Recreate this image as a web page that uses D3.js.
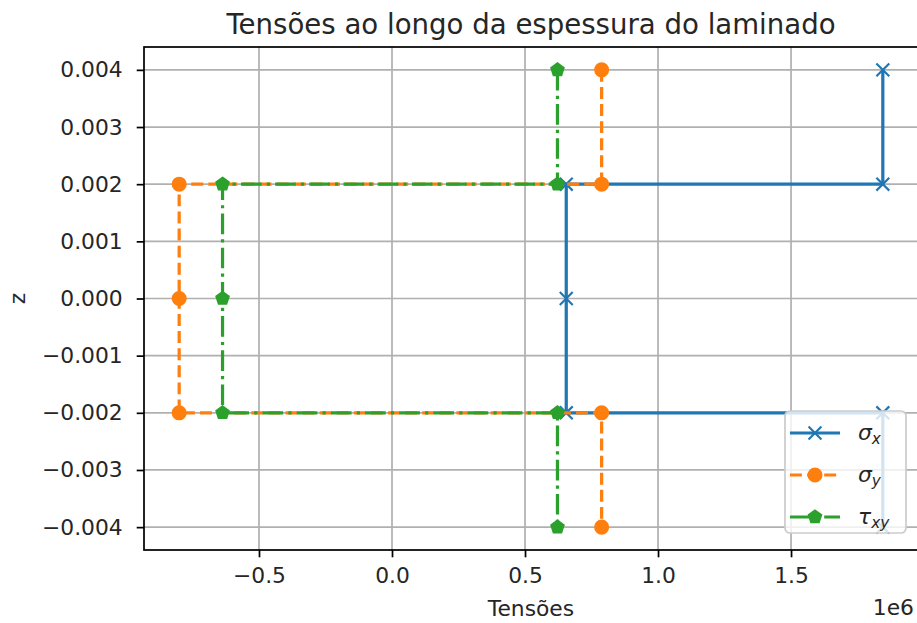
<!DOCTYPE html>
<html>
<head>
<meta charset="utf-8">
<script src="https://cdn.jsdelivr.net/npm/d3@7"></script>
<style>
  body { margin: 0; background: #fff; }
  svg { font-family: "DejaVu Sans", sans-serif; }
</style>
</head>
<body>
<div id="chart"></div>
<script>
// stress values through the laminate thickness
var zPos   = [0.004, 0.002, 0.002, 0, -0.002, -0.002, -0.004];
var sigmaX = [1.845e6, 1.845e6, 0.655e6, 0.655e6, 0.655e6, 1.845e6, 1.845e6];
var sigmaY = [0.788e6, 0.788e6, -0.800e6, -0.800e6, -0.800e6, 0.788e6, 0.788e6];
var tauXY  = [0.622e6, 0.622e6, -0.637e6, -0.637e6, -0.637e6, 0.622e6, 0.622e6];

var xTicks = [-0.5e6, 0, 0.5e6, 1.0e6, 1.5e6];
var yTicks = [-0.004, -0.003, -0.002, -0.001, 0, 0.001, 0.002, 0.003, 0.004];

var width = 917,
    height = 623,
    pt = 2.15,
    fontSize = 21.8;

var margin = {left: 144, right: width - 918, top: 47, bottom: height - 550};

var svg = d3.select("#chart").append("svg")
    .attr("width", width)
    .attr("height", height);

var allX = sigmaX.concat(sigmaY, tauXY);
var xMin = d3.min(allX), xMax = d3.max(allX);
var xPad = (xMax - xMin) * 0.05;
var yPad = (d3.max(zPos) - d3.min(zPos)) * 0.05;

var x = d3.scaleLinear()
    .domain([xMin - xPad, xMax + xPad])
    .range([margin.left, width - margin.right]);

var y = d3.scaleLinear()
    .domain([d3.min(zPos) - yPad, d3.max(zPos) + yPad])
    .range([height - margin.bottom, margin.top]);

// grid
var grid = svg.append("g");
grid.selectAll(".gx").data(xTicks).enter().append("line")
    .attr("x1", function(d) { return x(d); })
    .attr("x2", function(d) { return x(d); })
    .attr("y1", margin.top).attr("y2", height - margin.bottom)
    .style("stroke", "#b0b0b0").style("stroke-width", 0.8 * pt);
grid.selectAll(".gy").data(yTicks).enter().append("line")
    .attr("y1", function(d) { return y(d); })
    .attr("y2", function(d) { return y(d); })
    .attr("x1", margin.left).attr("x2", width - margin.right)
    .style("stroke", "#b0b0b0").style("stroke-width", 0.8 * pt);

// series
var series = [
  {sym: "σ", sub: "x", vals: sigmaX, color: "#1f77b4", dash: null, marker: "x"},
  {sym: "σ", sub: "y", vals: sigmaY, color: "#ff7f0e", dash: [3.7, 1.6], marker: "o"},
  {sym: "τ", sub: "xy", vals: tauXY, color: "#2ca02c", dash: [6.4, 1.6, 1.0, 1.6], marker: "p"}
];

var lw = 1.5 * pt;
var ms = 6 * pt;

function dashArray(s) {
  if (!s.dash) return null;
  return s.dash.map(function(v) { return v * lw; }).join(",");
}

function drawMarker(g, s, cx, cy) {
  if (s.marker === "x") {
    var h = ms / 2;
    g.append("path")
      .attr("d", "M" + (cx - h) + "," + (cy - h) + "L" + (cx + h) + "," + (cy + h) +
                 "M" + (cx - h) + "," + (cy + h) + "L" + (cx + h) + "," + (cy - h))
      .style("stroke", s.color).style("stroke-width", pt).style("fill", "none");
  } else if (s.marker === "o") {
    g.append("circle")
      .attr("cx", cx).attr("cy", cy).attr("r", ms / 2)
      .style("fill", s.color).style("stroke", s.color).style("stroke-width", pt);
  } else {
    var r = ms / 2;
    var pts = d3.range(5).map(function(i) {
      var a = -Math.PI / 2 + i * 2 * Math.PI / 5;
      return [cx + r * Math.cos(a), cy + r * Math.sin(a)];
    });
    g.append("path")
      .attr("d", "M" + pts.join("L") + "Z")
      .style("fill", s.color).style("stroke", s.color).style("stroke-width", pt)
      .style("stroke-linejoin", "miter");
  }
}

var line = d3.line()
    .x(function(d) { return x(d[0]); })
    .y(function(d) { return y(d[1]); });

var plot = svg.append("g");
series.forEach(function(s) {
  var pts = s.vals.map(function(v, i) { return [v, zPos[i]]; });
  var g = plot.append("g");
  g.append("path")
    .attr("d", line(pts))
    .style("fill", "none")
    .style("stroke", s.color)
    .style("stroke-width", lw)
    .style("stroke-dasharray", dashArray(s));
  pts.forEach(function(p) { drawMarker(g, s, x(p[0]), y(p[1])); });
});

// axes
var xAxis = d3.axisBottom(x)
    .tickValues(xTicks)
    .tickFormat(function(d) { return d3.format(".1f")(d / 1e6); })
    .tickSize(7.3)
    .tickPadding(10.5);

var yAxis = d3.axisLeft(y)
    .tickValues(yTicks)
    .tickFormat(d3.format(".3f"))
    .tickSize(7.3)
    .tickPadding(14);

var gx = svg.append("g")
    .attr("transform", "translate(0," + (height - margin.bottom) + ")")
    .call(xAxis);
var gy = svg.append("g")
    .attr("transform", "translate(" + margin.left + ",0)")
    .call(yAxis);

[gx, gy].forEach(function(g) {
  g.select(".domain").remove();
  g.selectAll(".tick line").style("stroke", "#000").style("stroke-width", 0.8 * pt);
  g.selectAll(".tick text")
    .style("font-family", "DejaVu Sans")
    .style("font-size", fontSize + "px")
    .style("fill", "#262626");
});

// spines
svg.append("rect")
    .attr("x", margin.left).attr("y", margin.top)
    .attr("width", width - margin.right - margin.left)
    .attr("height", height - margin.bottom - margin.top)
    .style("fill", "none").style("stroke", "#000").style("stroke-width", 0.8 * pt);

// title and labels
svg.append("text")
    .attr("x", (margin.left + width - margin.right) / 2)
    .attr("y", 34)
    .attr("text-anchor", "middle")
    .style("font-size", "27.6px")
    .style("fill", "#262626")
    .text("Tensões ao longo da espessura do laminado");

svg.append("text")
    .attr("x", (margin.left + width - margin.right) / 2)
    .attr("y", 616)
    .attr("text-anchor", "middle")
    .style("font-size", fontSize + "px")
    .style("fill", "#262626")
    .text("Tensões");

svg.append("text")
    .attr("transform", "translate(25," + (margin.top + height - margin.bottom) / 2 + ") rotate(-90)")
    .attr("text-anchor", "middle")
    .style("font-size", fontSize + "px")
    .style("fill", "#262626")
    .text("z");

svg.append("text")
    .attr("x", width - margin.right - 4)
    .attr("y", 615)
    .attr("text-anchor", "end")
    .style("font-size", fontSize + "px")
    .style("fill", "#262626")
    .text("1e6");

// legend
var legend = svg.append("g").attr("transform", "translate(785,411)");
legend.append("rect")
    .attr("width", 121).attr("height", 122)
    .attr("rx", 5)
    .style("fill", "#fff").style("fill-opacity", 0.8)
    .style("stroke", "#cccccc").style("stroke-width", 0.8 * pt);

series.forEach(function(s, i) {
  var ly = 22 + i * 42;
  var g = legend.append("g");
  g.append("line")
    .attr("x1", 5).attr("x2", 55)
    .attr("y1", ly).attr("y2", ly)
    .style("stroke", s.color)
    .style("stroke-width", lw)
    .style("stroke-dasharray", dashArray(s));
  drawMarker(g, s, 30, ly);
  var t = g.append("text")
    .attr("x", 73).attr("y", ly + 7)
    .style("font-size", fontSize + "px")
    .style("font-style", "italic")
    .style("fill", "#262626");
  t.append("tspan").text(s.sym);
  t.append("tspan")
    .attr("dy", 4)
    .style("font-size", (fontSize * 0.7) + "px")
    .text(s.sub);
});
</script>
</body>
</html>
